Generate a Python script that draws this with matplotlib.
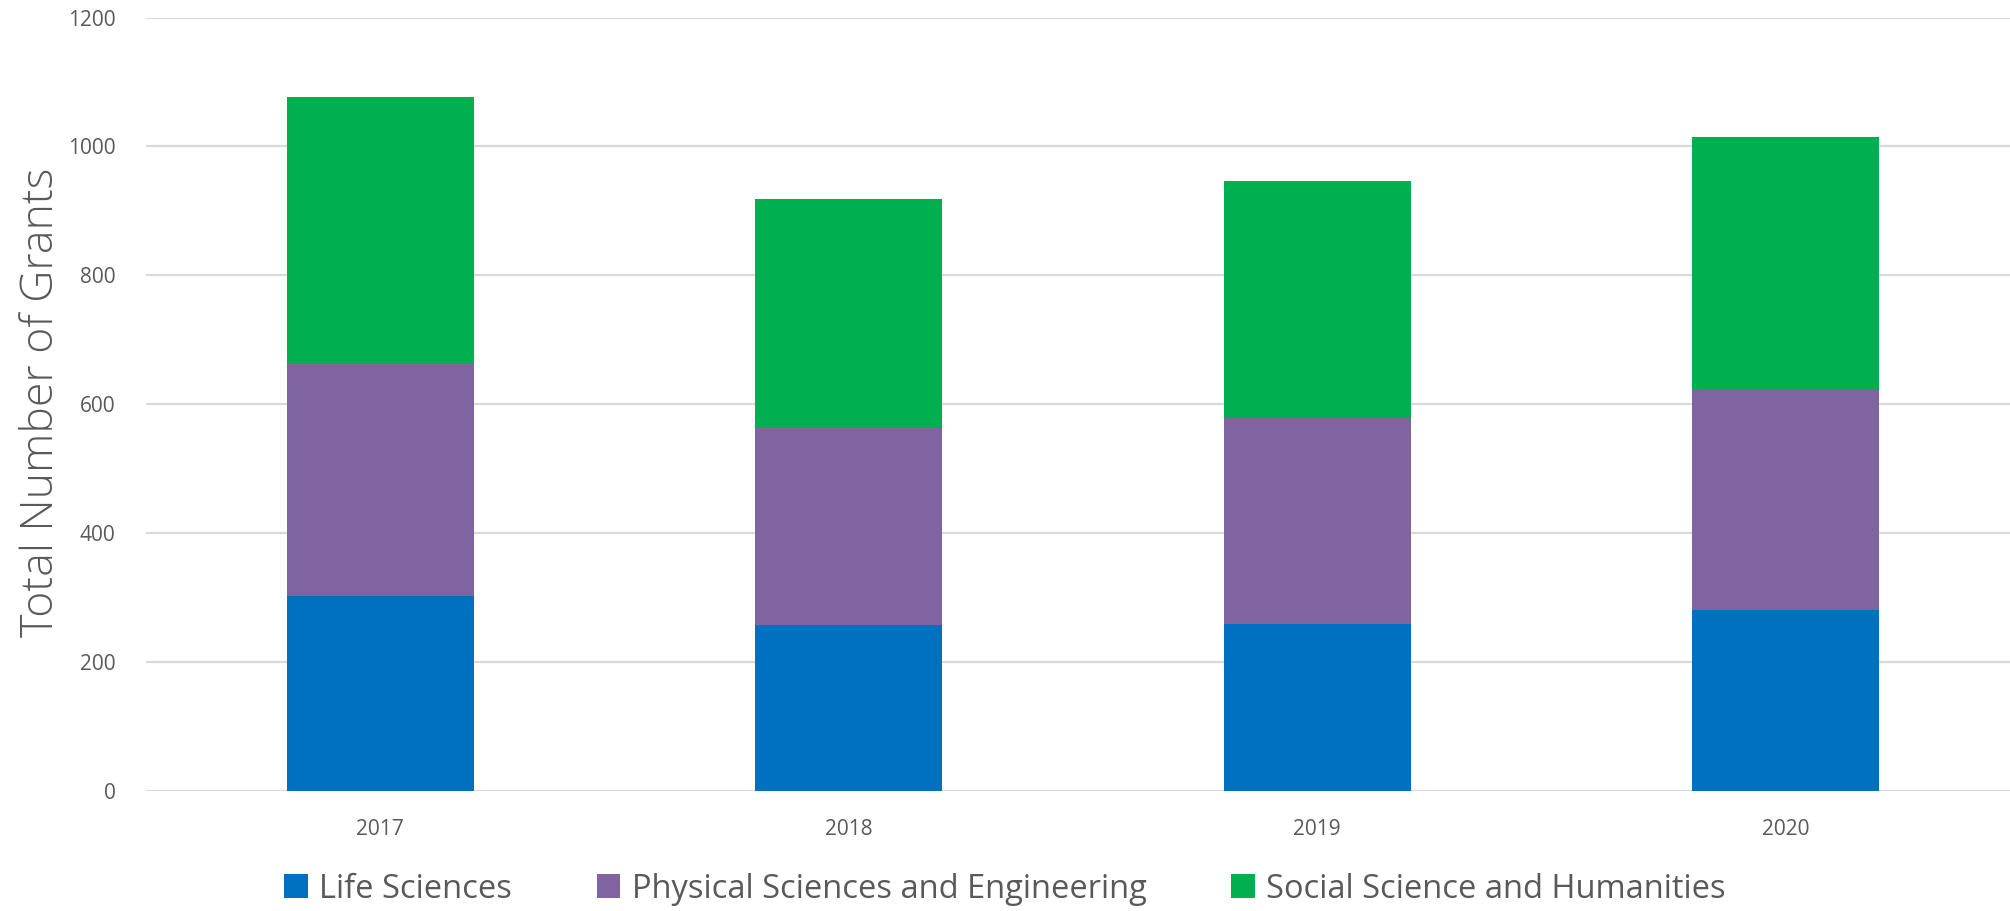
"""
Stacked bar chart: total number of grants per year by research area
"""
import matplotlib
matplotlib.use('Agg')
import matplotlib.pyplot as plt
import numpy as np

years = ['2017', '2018', '2019', '2020']
life_sciences = [302, 257, 259, 280]
physical_sciences = [362, 307, 320, 343]
social_sciences = [412, 354, 367, 392]

series_names = ['Life Sciences', 'Physical Sciences and Engineering',
                'Social Science and Humanities']
series_colors = ['#0070C0', '#8064A2', '#00B050']
y_ticks = [0, 200, 400, 600, 800, 1000, 1200]

plt.rcParams['font.family'] = ['Open Sans', 'DejaVu Sans']

fig = plt.figure(figsize=(20.1, 9.11), dpi=100, facecolor='white')
ax = fig.add_axes([146 / 2010, 1 - 790.8 / 911, (2020 - 146) / 2010, (790.8 - 17.6) / 911])

x = np.arange(len(years))
bottom = np.zeros(len(years))
for values, name, color in zip([life_sciences, physical_sciences, social_sciences],
                               series_names, series_colors):
    ax.bar(x, values, width=0.4, bottom=bottom, color=color, label=name, zorder=3)
    bottom += np.array(values)

ax.set_xlim(-0.5, len(years) - 0.5)
ax.set_ylim(0, 1200)
ax.set_yticks(y_ticks)
ax.set_yticklabels([str(t) for t in y_ticks])
ax.set_xticks(x)
ax.set_xticklabels(years)

# Light horizontal gridlines only
ax.grid(axis='y', color='#d9d9d9', linewidth=1.6, zorder=0)
for side in ['top', 'right', 'left', 'bottom']:
    ax.spines[side].set_visible(False)
ax.tick_params(axis='both', length=0, labelsize=15, labelcolor='#595959')
ax.tick_params(axis='y', pad=22)
ax.tick_params(axis='x', pad=20)

ax.set_ylabel('Total Number of Grants', fontsize=32, color='#595959',
              fontweight='light')
ax.yaxis.set_label_coords(-0.0438, 0.503)

handles, labels = ax.get_legend_handles_labels()
fig.legend(handles, labels, loc='center', bbox_to_anchor=(0.5, 1 - 889 / 911), ncol=3,
           frameon=False, fontsize=23.5, handlelength=0.72, handleheight=0.72,
           handletextpad=0.35, columnspacing=2.6, labelcolor='#595959')

fig.savefig('out.png', dpi=100, facecolor='white')
